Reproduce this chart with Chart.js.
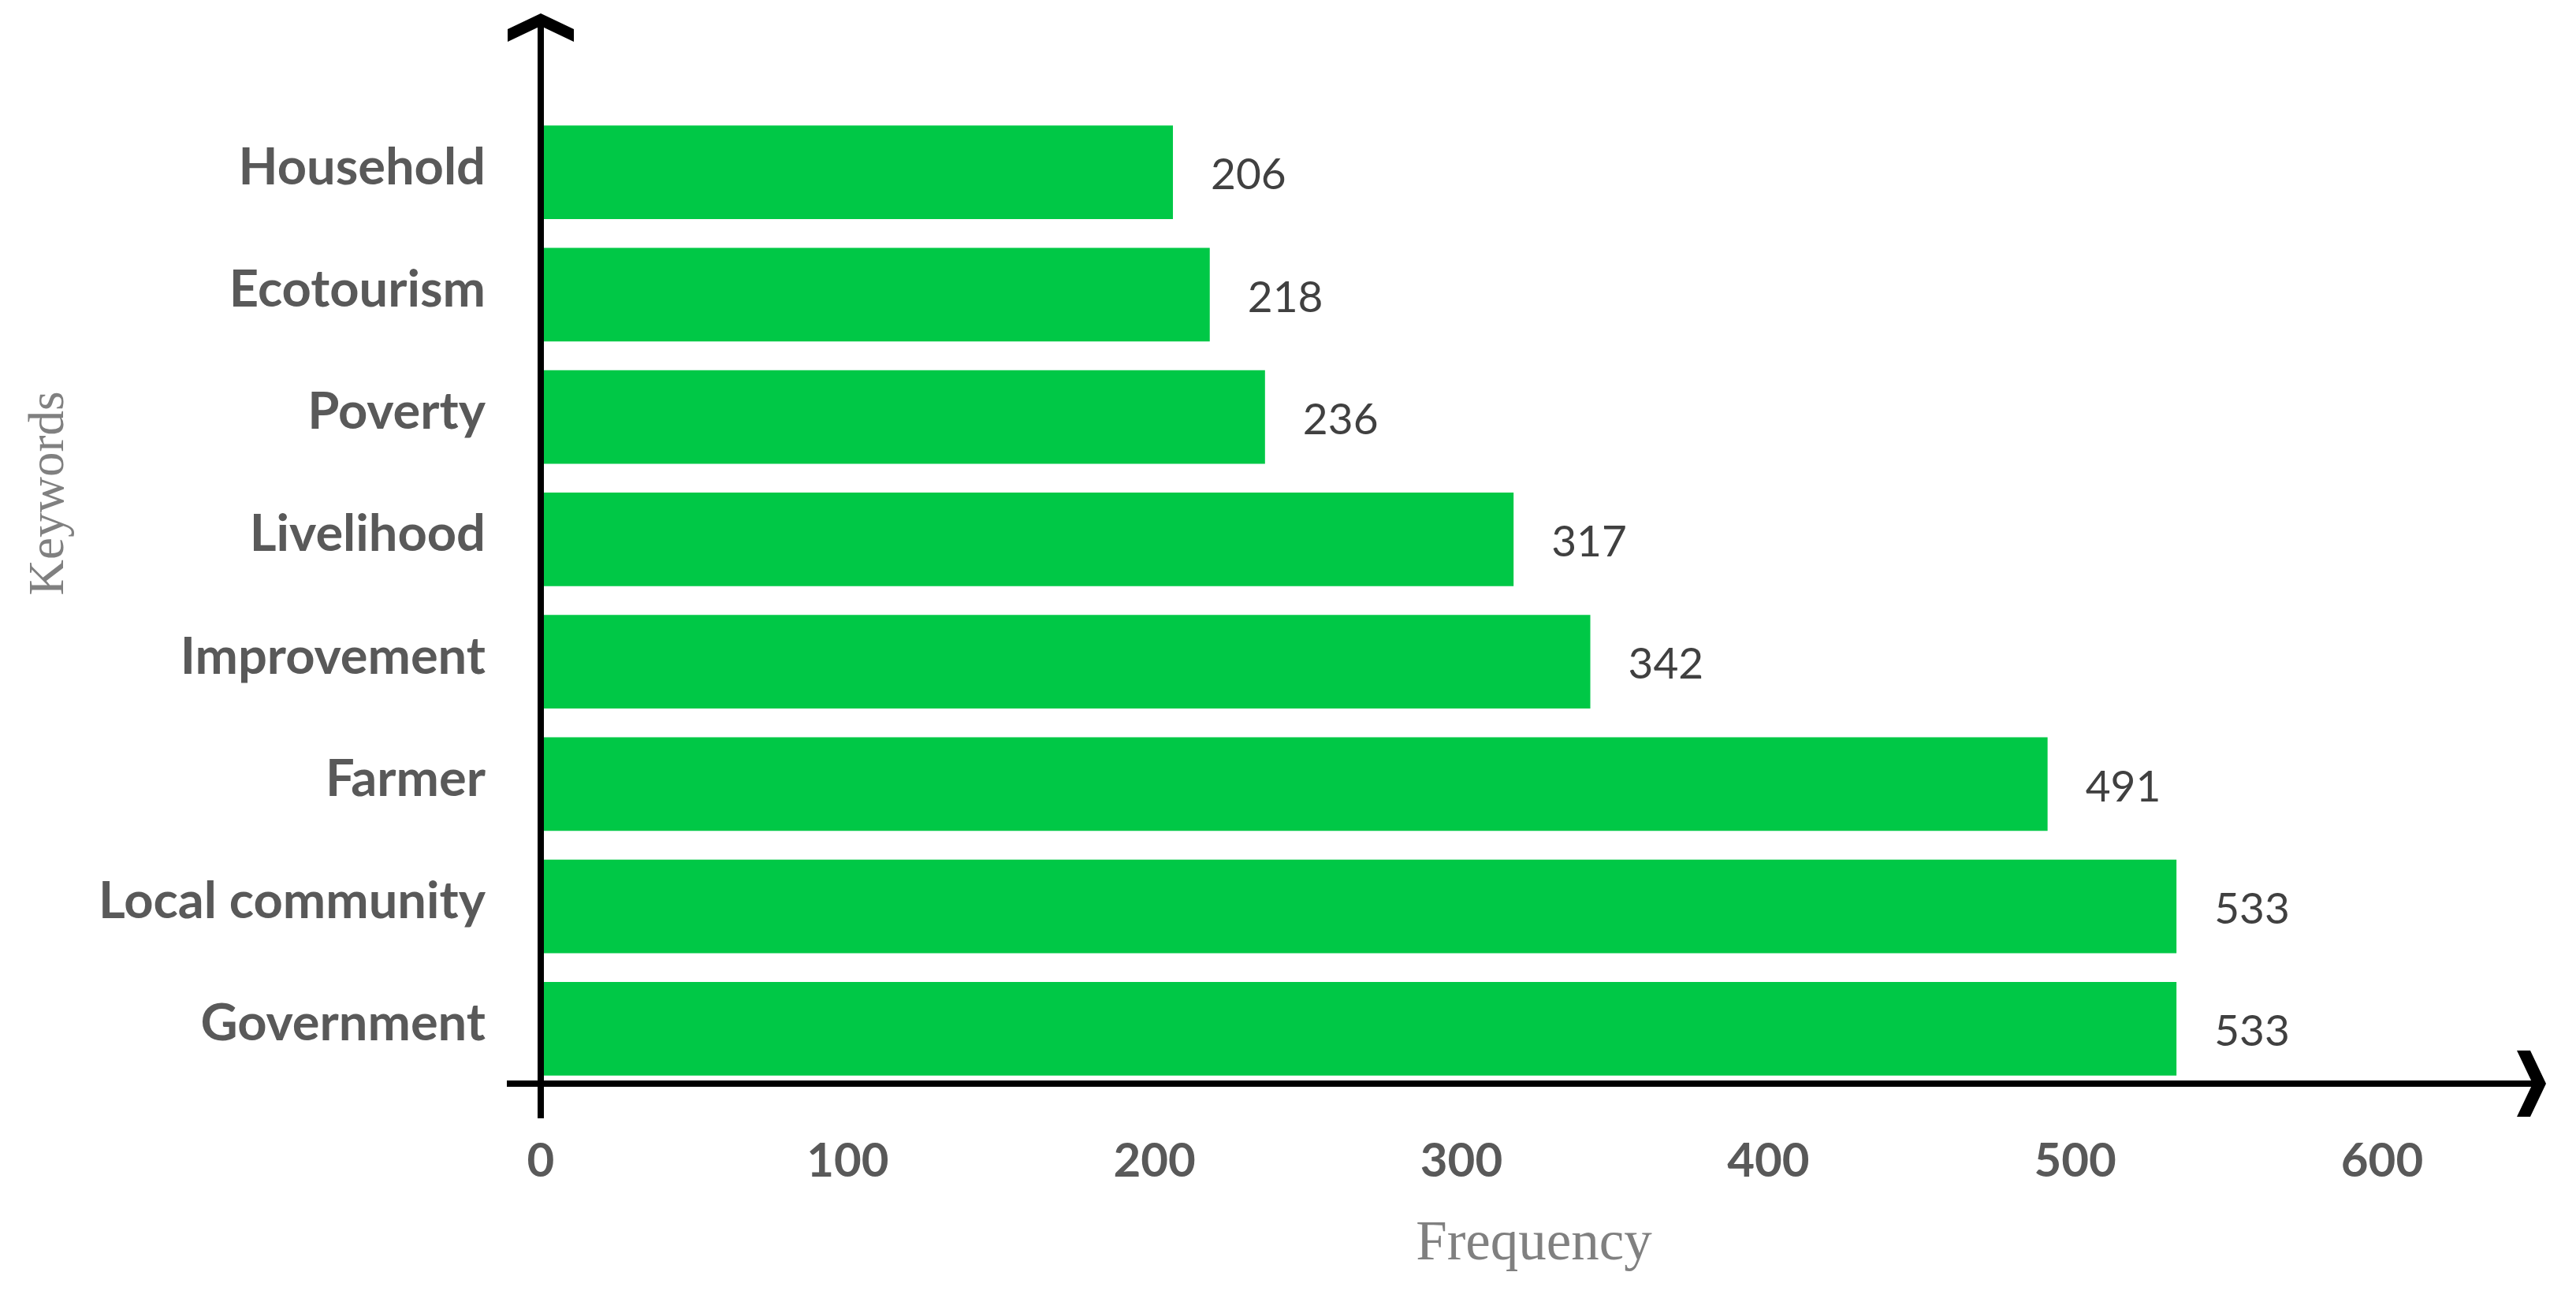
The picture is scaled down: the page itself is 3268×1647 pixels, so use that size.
<!DOCTYPE html>
<html><head><meta charset="utf-8">
<script src="https://cdn.jsdelivr.net/npm/chart.js@4.4.0/dist/chart.umd.min.js"></script>
<style>html,body{margin:0;padding:0;background:#fff;overflow:hidden}#wrap{width:3268px;height:1647px;position:relative}</style>
</head><body><div id="wrap"><canvas id="c"></canvas></div>
<script>
const categories = ['Household','Ecotourism','Poverty','Livelihood','Improvement','Farmer','Local community','Government'];
const frequencies = [206, 218, 236, 317, 342, 491, 533, 533];
const xTicks = [0, 100, 200, 300, 400, 500, 600];
const xTitle = 'Frequency';
const yTitle = 'Keywords';

const BAR_COLOR = '#00C846';
const LABEL_GREY = '#595959';
const TITLE_GREY = '#808080';

const axesPlugin = {
  id: 'axesArrows',
  afterDatasetsDraw(chart) {
    const ctx = chart.ctx;
    const ca = chart.chartArea;
    const x0 = chart.scales.x.getPixelForValue(0);
    const yAxisY = ca.bottom - 8;
    ctx.save();
    ctx.strokeStyle = '#000';
    ctx.fillStyle = '#000';
    ctx.lineWidth = 8;
    // vertical axis
    ctx.beginPath();
    ctx.moveTo(x0, ca.top - 118);
    ctx.lineTo(x0, yAxisY + 44);
    ctx.stroke();
    // horizontal axis
    ctx.beginPath();
    ctx.moveTo(x0 - 43, yAxisY);
    ctx.lineTo(ca.right + 195, yAxisY);
    ctx.stroke();
    // up chevron
    const tY = ca.top - 124;
    ctx.beginPath();
    ctx.moveTo(x0, tY);
    ctx.lineTo(x0 + 42, tY + 20);
    ctx.lineTo(x0 + 42, tY + 36);
    ctx.lineTo(x0, tY + 16);
    ctx.lineTo(x0 - 42, tY + 36);
    ctx.lineTo(x0 - 42, tY + 20);
    ctx.closePath();
    ctx.fill();
    // right chevron
    const tX = ca.right + 208;
    ctx.beginPath();
    ctx.moveTo(tX, yAxisY);
    ctx.lineTo(tX - 20, yAxisY - 42);
    ctx.lineTo(tX - 37, yAxisY - 42);
    ctx.lineTo(tX - 17, yAxisY);
    ctx.lineTo(tX - 37, yAxisY + 42);
    ctx.lineTo(tX - 20, yAxisY + 42);
    ctx.closePath();
    ctx.fill();

    // value labels
    const meta = chart.getDatasetMeta(0);
    ctx.font = '55px Lato';
    ctx.fillStyle = '#404040';
    ctx.textAlign = 'left';
    ctx.textBaseline = 'middle';
    meta.data.forEach((bar, i) => {
      ctx.fillText(String(frequencies[i]), bar.x + 48, bar.y + 4);
    });

    // axis titles
    ctx.fillStyle = TITLE_GREY;
    ctx.font = '71px "Liberation Serif"';
    ctx.textAlign = 'center';
    ctx.textBaseline = 'alphabetic';
    ctx.fillText(xTitle, (ca.left + ca.right) / 2 + 92, ca.bottom + 215);
    ctx.save();
    ctx.translate(80, (ca.top + ca.bottom) / 2 - 136);
    ctx.rotate(-Math.PI / 2);
    ctx.font = '63px "Liberation Serif"';
    ctx.fillText(yTitle, 0, 0);
    ctx.restore();
    ctx.restore();
  }
};

new Chart(document.getElementById('c'), {
  type: 'bar',
  data: {
    labels: categories,
    datasets: [{
      data: frequencies,
      backgroundColor: BAR_COLOR,
      borderWidth: 0,
      barPercentage: 0.766,
      categoryPercentage: 1
    }]
  },
  options: {
    indexAxis: 'y',
    responsive: true,
    maintainAspectRatio: false,
    animation: false,
    devicePixelRatio: 1,
    layout: { padding: { top: 141, right: 246, left: 0, bottom: 0 } },
    plugins: { legend: { display: false }, tooltip: { enabled: false } },
    scales: {
      x: {
        min: 0, max: 600,
        afterBuildTicks(scale) { scale.ticks = xTicks.map(v => ({ value: v })); },
        afterFit(scale) { scale.height = 264; },
        grid: { display: false, drawTicks: false },
        border: { display: false },
        ticks: {
          font: { family: 'Lato', size: 60, weight: 'bold' },
          color: LABEL_GREY,
          padding: 55,
          maxRotation: 0,
          autoSkip: false
        }
      },
      y: {
        afterFit(scale) { scale.width = 686; },
        grid: { display: false, drawTicks: false },
        border: { display: false },
        ticks: {
          font: { family: 'Lato', size: 65, weight: 'bold' },
          color: LABEL_GREY,
          padding: 70,
          labelOffset: -6,
          autoSkip: false
        }
      }
    }
  },
  plugins: [axesPlugin]
});
</script>
</body></html>
